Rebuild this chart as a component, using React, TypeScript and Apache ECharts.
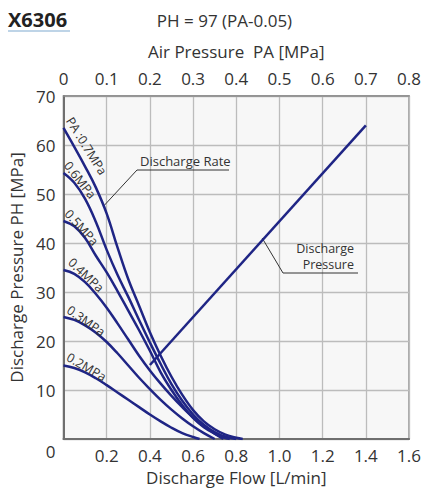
import React, { useEffect, useRef } from "react";
import * as echarts from "echarts";

// Discharge flow [L/min] vs discharge pressure PH [MPa], one list per air pressure PA
const curve07: number[][] = [[0, 63.5], [0.05, 59.6], [0.1, 55.6], [0.15, 51.3], [0.2, 46], [0.25, 39.1], [0.3, 32.6], [0.35, 27.2], [0.4, 21.8], [0.45, 17], [0.5, 12.7], [0.55, 9], [0.6, 5.9], [0.65, 3.6], [0.7, 2], [0.75, 0.9], [0.8, 0.25], [0.83, 0]];
const curve06: number[][] = [[0, 54.3], [0.05, 52.3], [0.1, 49], [0.15, 44.3], [0.2, 38.6], [0.25, 33.5], [0.3, 29], [0.35, 24.3], [0.4, 19.7], [0.45, 15.3], [0.5, 11.2], [0.55, 7.8], [0.6, 5], [0.65, 2.9], [0.7, 1.4], [0.75, 0.45], [0.8, 0]];
const curve05: number[][] = [[0, 44.5], [0.05, 43.4], [0.1, 41], [0.15, 37.4], [0.2, 34], [0.25, 30.2], [0.3, 26.2], [0.35, 22.2], [0.4, 18], [0.45, 13.6], [0.5, 10], [0.55, 6.9], [0.6, 4.3], [0.65, 2.4], [0.7, 1.1], [0.74, 0.35], [0.77, 0]];
const curve04: number[][] = [[0, 34.5], [0.05, 33.7], [0.1, 32], [0.15, 29.6], [0.2, 26.8], [0.25, 23.6], [0.3, 20.3], [0.35, 17], [0.4, 14], [0.45, 11.3], [0.5, 8.8], [0.55, 6.5], [0.6, 4.4], [0.65, 2.6], [0.7, 1.1], [0.74, 0]];
const curve03: number[][] = [[0, 24.9], [0.05, 24.3], [0.1, 23.2], [0.15, 21.7], [0.2, 19.8], [0.25, 17.5], [0.3, 15], [0.35, 12.5], [0.4, 10.2], [0.45, 8], [0.5, 6], [0.55, 4.2], [0.6, 2.6], [0.65, 1.2], [0.7, 0]];
const curve02: number[][] = [[0, 15], [0.05, 14.5], [0.1, 13.6], [0.15, 12.4], [0.2, 11], [0.25, 9.5], [0.3, 8], [0.35, 6.5], [0.4, 5], [0.45, 3.6], [0.5, 2.3], [0.55, 1.2], [0.6, 0.4], [0.63, 0]];

// Air pressure PA [MPa] vs discharge pressure PH [MPa]
const pressureLine: number[][] = [[0.2, 15.1], [0.7, 64]];

const curveNames = ["PA :0.7MPa", "0.6MPa", "0.5MPa", "0.4MPa", "0.3MPa", "0.2MPa"];
const flowTicks = [0, 0.2, 0.4, 0.6, 0.8, 1.0, 1.2, 1.4, 1.6];
const airTicks = [0, 0.1, 0.2, 0.3, 0.4, 0.5, 0.6, 0.7, 0.8];
const pressureTicks = [0, 10, 20, 30, 40, 50, 60, 70];

const FONT = "'Open Sans', 'Noto Sans', sans-serif";
const TXT = "#333333";
const NAVY = "#1f2585";

export default function App() {
  const ref = useRef<HTMLDivElement>(null);
  useEffect(() => {
    document.body.style.margin = "0";
    const chart = echarts.init(ref.current!, null, { renderer: "svg" });
    const curves = [curve07, curve06, curve05, curve04, curve03, curve02];
    chart.setOption({
      animation: false,
      backgroundColor: "#ffffff",
      textStyle: { fontFamily: FONT, color: TXT },
      grid: {
        left: 63.5, right: 14.5, top: 96, bottom: 54,
        show: true, backgroundColor: "#f7f7f7", borderColor: "#8a8a8a", borderWidth: 1.5,
      },
      xAxis: [
        {
          type: "value", position: "bottom", min: flowTicks[0], max: flowTicks[flowTicks.length - 1], interval: 0.2,
          name: "Discharge Flow [L/min]", nameLocation: "middle", nameGap: 29,
          nameTextStyle: { fontSize: 17, color: TXT, fontFamily: FONT },
          axisLine: { show: true, lineStyle: { color: "#6f6f6f", width: 2 } },
          axisTick: { show: false },
          axisLabel: { showMinLabel: false, fontSize: 17, color: TXT, fontFamily: FONT, margin: 8, formatter: (v: number) => v.toFixed(1) },
          splitLine: { show: true, lineStyle: { color: "#bcbcbc", width: 1.3 } },
        },
        {
          type: "value", position: "top", min: airTicks[0], max: airTicks[airTicks.length - 1], interval: 0.1,
          name: "Air Pressure  PA [MPa]", nameLocation: "middle", nameGap: 36,
          nameTextStyle: { fontSize: 17, color: TXT, fontFamily: FONT },
          axisLine: { show: true, lineStyle: { color: "#8a8a8a", width: 1.5 } },
          axisTick: { show: false },
          axisLabel: { fontSize: 17, color: TXT, fontFamily: FONT, margin: 9, formatter: (v: number) => (v === 0 ? "0" : v.toFixed(1)) },
          splitLine: { show: false },
        },
      ],
      yAxis: {
        type: "value", min: pressureTicks[0], max: pressureTicks[pressureTicks.length - 1], interval: 10,
        name: "Discharge Pressure PH [MPa]", nameLocation: "middle", nameGap: 33, nameRotate: 90,
        nameTextStyle: { fontSize: 17, color: TXT, fontFamily: FONT },
        axisLine: { show: true, lineStyle: { color: "#6f6f6f", width: 2 } },
        axisTick: { show: false },
        axisLabel: { showMinLabel: false, fontSize: 17, color: TXT, fontFamily: FONT, margin: 8 },
        splitLine: { show: true, lineStyle: { color: "#bcbcbc", width: 1.3 } },
      },
      series: [
        ...curves.map((d, i) => ({
          type: "line", name: curveNames[i], xAxisIndex: 0, yAxisIndex: 0, data: d,
          smooth: 0.4, showSymbol: false, symbol: "none",
          lineStyle: { color: NAVY, width: 2.5 }, z: 3,
        })),
        {
          type: "line", name: "Discharge Pressure", xAxisIndex: 1, yAxisIndex: 0, data: pressureLine,
          showSymbol: false, symbol: "none", lineStyle: { color: NAVY, width: 2.5 }, z: 3,
        },
      ],
    });

    const px = (axis: number, pt: number[]) => chart.convertToPixel({ xAxisIndex: axis, yAxisIndex: 0 }, pt) as number[];
    const rateTip = px(0, [0.185, 47.5]);
    const presTip = px(1, [0.46, 41]);
    const origin = px(0, [0, 0]);

    const labelPos = [
      [86.5, 146, 58], [80, 180, 52], [81.5, 227.5, 48], [86, 275, 43], [86, 321, 35], [86.5, 367, 30],
    ];

    const graphic: any[] = [
      { type: "text", x: 8, y: 19, style: { text: "X6306", fontSize: 20, fontWeight: "bold", fontFamily: FONT, fill: "#222", textAlign: "left", textVerticalAlign: "middle" } },
      { type: "line", shape: { x1: 8, y1: 31, x2: 70, y2: 31 }, style: { stroke: "#a9c6df", lineWidth: 1.5 } },
      { type: "text", x: 224.5, y: 20.5, style: { text: "PH = 97 (PA-0.05)", fontSize: 17, fontFamily: FONT, fill: TXT, textAlign: "center", textVerticalAlign: "middle" } },
      { type: "text", x: origin[0] - 13, y: origin[1] + 12, style: { text: "0", fontSize: 17, fontFamily: FONT, fill: TXT, textAlign: "center", textVerticalAlign: "middle" } },
      // Discharge Rate annotation
      { type: "text", x: 140, y: 161, style: { text: "Discharge Rate", fontSize: 13, fontFamily: FONT, fill: TXT, textAlign: "left", textVerticalAlign: "middle" } },
      { type: "polyline", shape: { points: [[229, 170], [137, 170], rateTip] }, style: { stroke: "#333", lineWidth: 1, fill: null } },
      // Discharge Pressure annotation
      { type: "text", x: 354, y: 248.5, style: { text: "Discharge", fontSize: 12.5, fontFamily: FONT, fill: TXT, textAlign: "right", textVerticalAlign: "middle" } },
      { type: "text", x: 354, y: 264, style: { text: "Pressure", fontSize: 12.5, fontFamily: FONT, fill: TXT, textAlign: "right", textVerticalAlign: "middle" } },
      { type: "polyline", shape: { points: [[358, 273], [283, 273], presTip] }, style: { stroke: "#333", lineWidth: 1, fill: null } },
      ...curveNames.map((t, i) => ({
        type: "text", x: labelPos[i][0], y: labelPos[i][1], rotation: (-labelPos[i][2] * Math.PI) / 180,
        style: { text: t, fontSize: 12.5, fontFamily: FONT, fill: TXT, textAlign: "center", textVerticalAlign: "middle" }, z: 10,
      })),
    ];
    chart.setOption({ graphic });
    return () => chart.dispose();
  }, []);
  return <div ref={ref} style={{ width: 424, height: 493 }} />;
}
